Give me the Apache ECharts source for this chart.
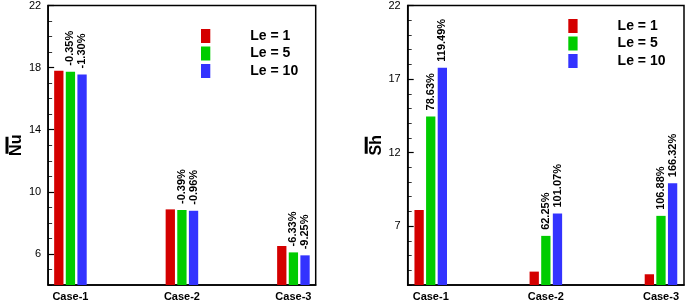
<!DOCTYPE html>
<html>
<head>
<meta charset="utf-8">
<script src="https://cdn.jsdelivr.net/npm/echarts@6/dist/echarts.min.js"></script>
<style>
  html, body { margin: 0; padding: 0; background: #fff; }
  #chart { width: 685px; height: 302px; }
</style>
</head>
<body>
<div id="chart"></div>
<script>
// data
const categories = ['Case-1', 'Case-2', 'Case-3'];
const seriesNames = ['Le = 1', 'Le = 5', 'Le = 10'];
const nuLe1 = [17.79, 8.87, 6.51];
const nuLe5 = [17.74, 8.83, 6.10];
const nuLe10 = [17.56, 8.78, 5.91];
const shLe1 = [8.10, 3.91, 3.73];
const shLe5 = [14.46, 6.34, 7.70];
const shLe10 = [17.77, 7.86, 9.92];
const nuPctLe5 = ['-0.35%', '-0.39%', '-6.33%'];
const nuPctLe10 = ['-1.30%', '-0.96%', '-9.25%'];
const shPctLe5 = ['78.63%', '62.25%', '106.88%'];
const shPctLe10 = ['119.49%', '101.07%', '166.32%'];
const nuTicks = [6, 10, 14, 18, 22];
const shTicks = [7, 12, 17, 22];

const colors = ['#d40000', '#00cc00', '#3333ff'];
const font = '"Liberation Sans", Arial, Helvetica, sans-serif';

const chart = echarts.init(document.getElementById('chart'));

function xAxisFor(grid) {
  return {
    type: 'value',
    gridIndex: grid,
    min: 0.8,
    max: 3.2,
    axisLine: { show: true, lineStyle: { color: '#000', width: 1.5 } },
    axisTick: { show: false },
    splitLine: { show: false },
    axisLabel: {
      customValues: [1, 2, 3],
      formatter: (v) => categories[Math.round(v) - 1],
      color: '#000',
      fontFamily: font,
      fontWeight: 'bold',
      fontSize: 11,
      margin: 6
    }
  };
}

function mainYAxis(grid, min, ticks, name, gap) {
  return {
    type: 'value',
    gridIndex: grid,
    position: 'left',
    min: min,
    max: 22,
    interval: 1,
    name: '{o|}\n{t|' + name + '}',
    nameLocation: 'middle',
    nameRotate: 90,
    nameGap: gap,
    nameTextStyle: {
      rich: {
        o: { width: 17, height: 3, backgroundColor: '#000' },
        t: { fontFamily: font, fontWeight: 'bold', fontSize: 16, color: '#000', lineHeight: 17 }
      }
    },
    axisLine: { show: true, lineStyle: { color: '#000', width: 1.5 } },
    axisTick: { show: true, inside: true, length: 6, customValues: ticks, lineStyle: { color: '#000', width: 1.2 } },
    axisLabel: { customValues: ticks, color: '#000', fontFamily: font, fontSize: 11, margin: 7 },
    splitLine: { show: false }
  };
}

function minorYAxis(grid, min) {
  return {
    type: 'value',
    gridIndex: grid,
    position: 'left',
    offset: 0,
    min: min,
    max: 22,
    interval: 1,
    axisLine: { show: false },
    axisTick: { show: true, inside: true, length: 4, lineStyle: { color: '#000', width: 0.8 } },
    axisLabel: { show: false },
    splitLine: { show: false }
  };
}

function barSeries(grid, idx, values, pct) {
  return {
    name: seriesNames[idx],
    type: 'bar',
    xAxisIndex: grid,
    yAxisIndex: grid * 2,
    barWidth: 9.3,
    barGap: '25%',
    itemStyle: { color: colors[idx] },
    data: values.map((v, i) => [i + 1, v]),
    label: {
      show: !!pct,
      position: 'top',
      rotate: 90,
      align: 'left',
      verticalAlign: 'middle',
      distance: 6,
      color: '#000',
      fontFamily: font,
      fontWeight: 'bold',
      fontSize: 11,
      formatter: (p) => (pct ? pct[p.dataIndex] : '')
    }
  };
}

function legendFor(left, top) {
  return {
    orient: 'vertical',
    left: left,
    top: top,
    padding: 0,
    itemWidth: 9.3,
    itemHeight: 14,
    itemGap: 3.5,
    icon: 'rect',
    data: seriesNames,
    textStyle: {
      color: '#000',
      fontFamily: font,
      fontWeight: 'bold',
      fontSize: 14,
      padding: [0, 0, 0, 35]
    }
  };
}

const option = {
  animation: false,
  backgroundColor: '#fff',
  grid: [
    { left: 39.3, top: 4.7, width: 276.4, height: 282, show: true, borderColor: '#000', borderWidth: 1.5 },
    { left: 407.7, top: 4.7, width: 276.3, height: 282, show: true, borderColor: '#000', borderWidth: 1.5 }
  ],
  legend: [legendFor(201, 29), legendFor(568.3, 19)],
  xAxis: [xAxisFor(0), xAxisFor(1)],
  yAxis: [
    mainYAxis(0, 4, nuTicks, 'Nu', 21),
    minorYAxis(0, 4),
    mainYAxis(1, 3, shTicks, 'Sh', 23),
    minorYAxis(1, 3)
  ],
  series: [
    barSeries(0, 0, nuLe1, null),
    barSeries(0, 1, nuLe5, nuPctLe5),
    barSeries(0, 2, nuLe10, nuPctLe10),
    barSeries(1, 0, shLe1, null),
    barSeries(1, 1, shLe5, shPctLe5),
    barSeries(1, 2, shLe10, shPctLe10)
  ]
};

chart.setOption(option);
window.addEventListener('resize', () => chart.resize());
</script>
</body>
</html>
